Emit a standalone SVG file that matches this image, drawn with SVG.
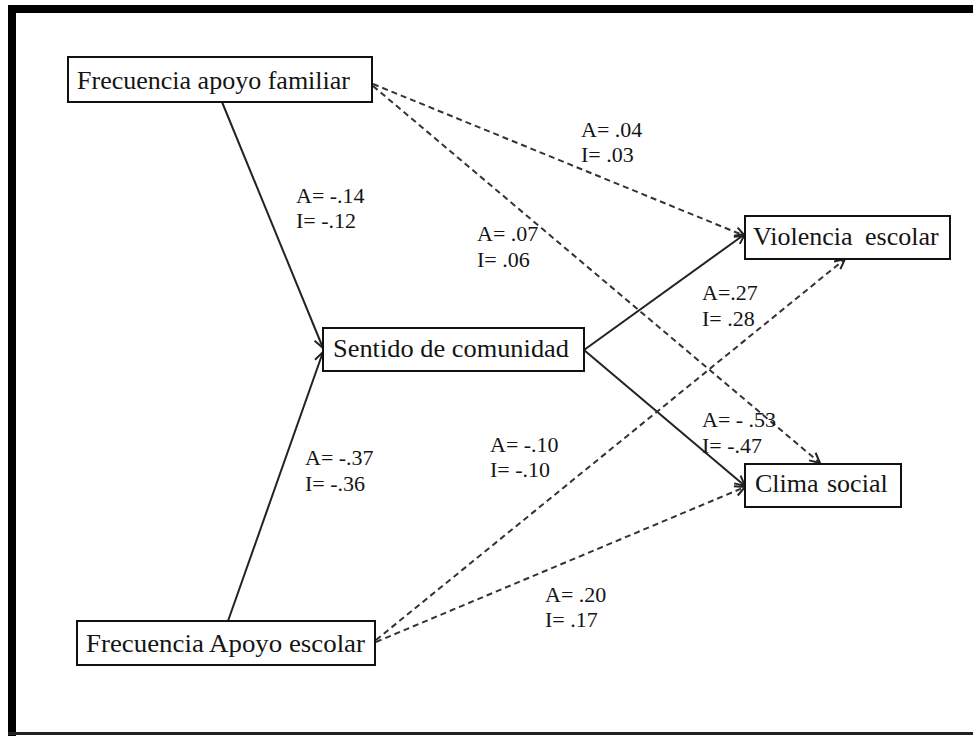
<svg xmlns="http://www.w3.org/2000/svg" width="973" height="736" viewBox="0 0 973 736">
  <defs>
    <style>
      .box { fill: #fff; stroke: #111; stroke-width: 2; }
      .node-text { font-family: "Liberation Serif", "Times New Roman", serif; font-size: 26px; fill: #141414; }
      .lbl { font-family: "Liberation Serif", "Times New Roman", serif; font-size: 22px; fill: #141414; }
      .solid { fill: none; stroke: #222; stroke-width: 2; }
      .dashed { fill: none; stroke: #333; stroke-width: 2; stroke-dasharray: 6 4; }
    </style>
    <marker id="arrow" markerUnits="userSpaceOnUse" markerWidth="14" markerHeight="14" refX="11" refY="6" orient="auto">
      <path d="M1,1 L11,6 L1,11" fill="none" stroke="#222" stroke-width="2"/>
    </marker>
  </defs>

  <!-- page frame -->
  <rect x="0" y="0" width="973" height="736" fill="#fff"/>
  <rect x="8" y="5" width="965" height="8" fill="#000"/>
  <rect x="8" y="5" width="8" height="731" fill="#000"/>
  <rect x="8" y="732" width="965" height="3" fill="#222"/>

  <!-- connectors -->
  <g id="connectors">
    <line class="solid" x1="222" y1="102" x2="323" y2="348" marker-end="url(#arrow)"/>
    <line class="solid" x1="228" y1="621" x2="323" y2="352" marker-end="url(#arrow)"/>
    <line class="solid" x1="584" y1="350" x2="745" y2="234" marker-end="url(#arrow)"/>
    <line class="solid" x1="584" y1="350" x2="745" y2="486" marker-end="url(#arrow)"/>
    <line class="dashed" x1="373" y1="84" x2="745" y2="236" marker-end="url(#arrow)"/>
    <line class="dashed" x1="373" y1="86" x2="820" y2="463" marker-end="url(#arrow)"/>
    <line class="dashed" x1="376" y1="640" x2="845" y2="259" marker-end="url(#arrow)"/>
    <line class="dashed" x1="376" y1="642" x2="745" y2="487" marker-end="url(#arrow)"/>
  </g>

  <!-- path coefficients -->
  <g id="labels">
    <text class="lbl" x="581" y="137">A= .04</text>
    <text class="lbl" x="581" y="162">I= .03</text>
    <text class="lbl" x="296" y="203">A= -.14</text>
    <text class="lbl" x="296" y="228">I= -.12</text>
    <text class="lbl" x="477" y="241">A= .07</text>
    <text class="lbl" x="477" y="267">I= .06</text>
    <text class="lbl" x="702" y="300">A=.27</text>
    <text class="lbl" x="702" y="326">I= .28</text>
    <text class="lbl" x="702" y="427">A= - .53</text>
    <text class="lbl" x="702" y="453">I= -.47</text>
    <text class="lbl" x="305" y="465">A= -.37</text>
    <text class="lbl" x="305" y="491">I= -.36</text>
    <text class="lbl" x="490" y="452">A= -.10</text>
    <text class="lbl" x="490" y="477">I= -.10</text>
    <text class="lbl" x="545" y="602">A= .20</text>
    <text class="lbl" x="545" y="627">I= .17</text>
  </g>

  <!-- nodes -->
  <g id="apoyo-familiar">
    <rect class="box" x="68" y="57" width="304" height="45"/>
    <text class="node-text" x="77" y="89" textLength="273" lengthAdjust="spacingAndGlyphs">Frecuencia apoyo familiar</text>
  </g>
  <g id="sentido-comunidad">
    <rect class="box" x="323" y="328" width="261" height="43"/>
    <text class="node-text" x="333" y="357" textLength="236" lengthAdjust="spacingAndGlyphs">Sentido de comunidad</text>
  </g>
  <g id="violencia-escolar">
    <rect class="box" x="745" y="216" width="205" height="43"/>
    <text class="node-text" y="245"><tspan x="753">Violencia</tspan><tspan x="865">escolar</tspan></text>
  </g>
  <g id="clima-social">
    <rect class="box" x="745" y="464" width="156" height="43"/>
    <text class="node-text" y="492"><tspan x="755">Clima</tspan><tspan x="827">social</tspan></text>
  </g>
  <g id="apoyo-escolar">
    <rect class="box" x="77" y="621" width="298" height="44"/>
    <text class="node-text" x="86" y="652" textLength="279" lengthAdjust="spacingAndGlyphs">Frecuencia Apoyo escolar</text>
  </g>
</svg>
